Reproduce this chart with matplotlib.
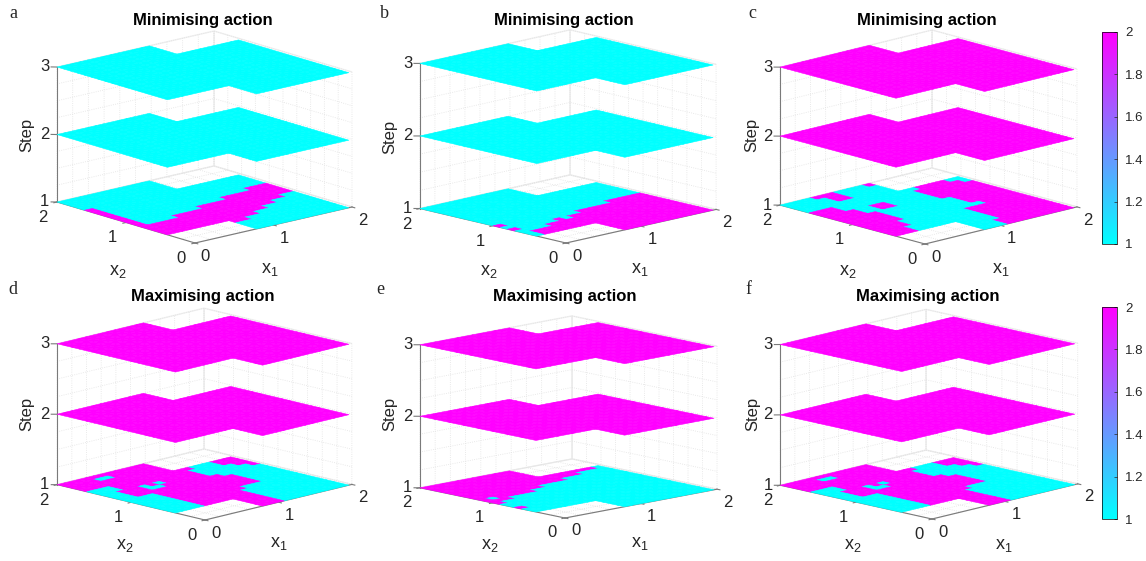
from matplotlib import pyplot as plt
from matplotlib.cm import ScalarMappable
from matplotlib.colors import Normalize
from mpl_toolkits.mplot3d import proj3d
import numpy as np

W, H = 1146, 561
plt.rcParams['font.family'] = ['Liberation Sans', 'DejaVu Sans']
plt.rcParams['mathtext.fontset'] = 'custom'
plt.rcParams['mathtext.rm'] = 'Liberation Sans'
plt.rcParams['grid.color'] = '#e2e2e2'
plt.rcParams['grid.linestyle'] = ':'
plt.rcParams['grid.linewidth'] = 0.6

titles = ['Minimising action'] * 3 + ['Maximising action'] * 3
letters = ['a', 'b', 'c', 'd', 'e', 'f']
upper_step_value = [1, 1, 2, 2, 2, 2]
steps = [1, 2, 3]

# action at step 1, top row is x2 = 1.9..2, 0 = outside the domain
step1_a = [
    '11111111111100000000', '11111111111100000000', '11111111111100000000', '11111111111100000000',
    '21111111111111111111', '21111111111111111111', '21111111111111111111', '21111111111111111111',
    '21111111111111111222', '21111111111112222222', '21111111122222222222', '21111222222222222222',
    '22222222222222222211', '22222222222222221111', '22222222222222111111', '22222222222211111111',
    '00000000221111111111', '00000000111111111111', '00000000111111111111', '00000000111111111111',
]
step1_b = [
    '11111111111100000000', '11111111111100000000', '11111111111100000000', '11111111111100000000',
    '11111111111111111111', '11111111111111111111', '11111111111111111111', '11111111111111111111',
    '11111111111111111111', '11111111111111111111', '21111111111111122222', '11111111112222222222',
    '21111121222222222222', '11112222222222222222', '12222222222222222222', '12222222222222222222',
    '00000000222222222222', '00000000222222222222', '00000000222222222222', '00000000222222222222',
]
step1_c = [
    '11112221111200000000', '11111221111100000000', '11111221111100000000', '11111111111100000000',
    '22211111111111222211', '22211111111112222221', '22221122111112222222', '22221122111112222222',
    '22222111111112222222', '22222111111111222222', '22222111111111222222', '22222111111111222222',
    '22221111111111122222', '22221111111122222222', '22211111111122222222', '22211111111122222222',
    '00000000111122222222', '00000000111122222222', '00000000111222222222', '00000000111222222222',
]
step1_d = [
    '22222222222200000000', '22221122222200000000', '22222222222200000000', '22222222222200000000',
    '11122222222222111222', '11122222222221111222', '11222121222221111122', '11222112222221111112',
    '11222222222222111111', '11112222222222211111', '11112222222222211111', '11112222222222211111',
    '11112222222222211111', '11112222222211111111', '11112222222111111111', '11112222222111111111',
    '00000000222111111111', '00000000222111111111', '00000000222111111111', '00000000222111111111',
]
step1_e = [
    '22222222222200000000', '22222222222200000000', '22222222222200000000', '22222222222200000000',
    '22222222222222222221', '22222222222222221111', '22222222222221111111', '22222222211111111111',
    '21222221111111111111', '22211111111111111111', '21111111111111111111', '11111111111111111111',
    '11111111111111111111', '21111111111111111111', '11111111111111111111', '11111111111111111111',
    '00000000111111111111', '00000000111111111111', '00000000111111111111', '00000000111111111111',
]
step1_f = step1_d
step1_all = [step1_a, step1_b, step1_c, step1_d, step1_e, step1_f]

x1_edges = np.linspace(0, 1.96, 21)
x2_edges = np.linspace(0, 2, 21)

# pixel positions of the box corners on the reference: left, front, right, z span
boxes = [
    ((57, 202), (195, 243), (352, 207), 135),
    ((420, 209), (566, 243), (716, 209), 145),
    ((780, 205), (925, 244), (1077, 207), 138),
    ((57, 484), (205, 520), (352, 485), 141),
    ((420, 488), (565, 518), (717, 489), 143),
    ((780, 484), (932, 519), (1078, 485), 141),
]
title_pos = [(203, 20), (564, 20), (927, 20), (203, 296), (565, 296), (928, 296)]
letter_pos = [(13, 13), (384, 13), (752, 13), (13, 290), (380, 290), (748, 290)]
x1_label_pos = [(270, 270), (640, 269), (1001, 269), (279, 544), (640, 544), (1004, 545)]
x2_label_pos = [(118, 271), (489, 271), (848, 271), (125, 545), (490, 546), (853, 546)]
step_label_pos = [(27, 135), (390, 137), (752, 135), (27, 414), (390, 414), (753, 414)]

cmap = plt.get_cmap('cool')
norm = Normalize(1, 2)
axis_gray = '#7a7a7a'


def corner_px(ax, x, y, z):
    xs, ys, _ = proj3d.proj_transform(x, y, z, ax.get_proj())
    return ax.transData.transform((xs, ys))


def fit_box(ax, left, front, right, span):
    # view angles and box shape from where the corners sit on the picture
    ex = (np.array(right) - front) / 2.0
    ey = (np.array(left) - front) / 2.0
    azim = -180 + np.degrees(np.arctan2(ex[0], -ey[0]))
    L = np.hypot(ex[0], ey[0])
    A, B = ex[0] / L, -ey[0] / L
    sin_el = (-ex[1] - ey[1]) / (L * (A + B))
    elev = np.degrees(np.arcsin(sin_el))
    ax.view_init(elev=elev, azim=azim)
    ax.set_box_aspect((2 * L, 2 * L, span / np.cos(np.radians(elev))))
    fig.canvas.draw()
    S = 400.0
    ax.set_position([0.2, 0.1, S / W, S / H])
    ax.apply_aspect()
    p0 = corner_px(ax, 0, 0, 1)
    p1 = corner_px(ax, 2, 0, 1)
    S = S * np.hypot(*(np.array(right) - front)) / np.hypot(*(p1 - p0))
    ax.set_position([0.2, 0.1, S / W, S / H])
    ax.apply_aspect()
    p0 = corner_px(ax, 0, 0, 1)
    x0 = 0.2 * W + front[0] - p0[0]
    y0 = 0.1 * H + (H - front[1]) - p0[1]
    ax.set_position([x0 / W, y0 / H, S / W, S / H])


def put_text(pos, s, **kw):
    fig.text(pos[0] / W, 1 - pos[1] / H, s, ha='center', va='center', color='#262626', **kw)


fig = plt.figure(figsize=(W / 100, H / 100), dpi=100)

for n in range(6):
    ax = fig.add_subplot(projection='3d', proj_type='ortho')
    ax.patch.set_visible(False)
    ax.set_xlim(0, 2, view_margin=0)
    ax.set_ylim(0, 2, view_margin=0)
    ax.set_zlim(1, 3, view_margin=0)
    fit_box(ax, *boxes[n])

    grid = np.array([[int(c) for c in row] for row in step1_all[n][::-1]], dtype=float)
    X, Y = np.meshgrid(x1_edges, x2_edges)
    for s in steps:
        vals = grid if s == 1 else np.where(grid > 0, upper_step_value[n], 0)
        colors = cmap(norm(vals))
        colors[vals == 0] = (1, 1, 1, 0)
        ax.plot_surface(X, Y, np.full(X.shape, float(s)), facecolors=colors, rstride=1, cstride=1,
                        shade=False, linewidth=0.4)

    for axis in (ax.xaxis, ax.yaxis, ax.zaxis):
        axis.set_pane_color((1, 1, 1, 1))
        axis.pane.set_edgecolor('#f0f0f0')
        axis.line.set_color(axis_gray)
        axis.line.set_linewidth(0.8)
        # the grid needs a tick everywhere, so the marks go and come back below for whole values
        axis._axinfo['tick']['inward_factor'] = 0
        axis._axinfo['tick']['outward_factor'] = 0

    xy_ticks = np.arange(0, 2.01, 0.2)
    xy_labels = ['%d' % t if abs(t - round(t)) < 1e-6 else '' for t in xy_ticks]
    z_ticks = np.arange(1, 3.01, 0.25)
    z_labels = ['%d' % t if abs(t - round(t)) < 1e-6 else '' for t in z_ticks]
    ax.set_xticks(xy_ticks, xy_labels)
    ax.set_yticks(xy_ticks, xy_labels)
    ax.set_zticks(z_ticks, z_labels)
    ax.tick_params(labelsize=12, pad=1, colors='#262626')
    ax.yaxis.set_tick_params(pad=2.5)
    ax.zaxis.set_tick_params(pad=-3)
    for axis in (ax.xaxis, ax.yaxis, ax.zaxis):
        for tick in axis.get_major_ticks():
            tick.label1.set_verticalalignment('center')

    for t in (0, 1, 2):
        ax.plot([t, t], [0, -0.04], [1, 1], color=axis_gray, lw=0.8)
        ax.plot([0, -0.04], [t, t], [1, 1], color=axis_gray, lw=0.8)
    for t in (1, 2, 3):
        ax.plot([0, -0.04], [2, 2.04], [t, t], color=axis_gray, lw=0.8)
    ax.set_xlim(0, 2, view_margin=0)
    ax.set_ylim(0, 2, view_margin=0)
    ax.set_zlim(1, 3, view_margin=0)

    put_text(x1_label_pos[n], r'$\mathregular{x_1}$', fontsize=13)
    put_text(x2_label_pos[n], r'$\mathregular{x_2}$', fontsize=13)
    put_text(step_label_pos[n], 'Step', fontsize=12, rotation=90)
    fig.text(title_pos[n][0] / W, 1 - title_pos[n][1] / H, titles[n], ha='center', va='center',
             fontsize=12, fontweight='bold')
    put_text(letter_pos[n], letters[n], fontsize=13, family='Liberation Serif')

for top, bottom in ((32, 244), (307, 519)):
    cax = fig.add_axes([1102 / W, 1 - bottom / H, 15 / W, (bottom - top) / H])
    cb = fig.colorbar(ScalarMappable(norm=norm, cmap=cmap), cax=cax, ticks=np.arange(1, 2.01, 0.2))
    cb.ax.set_yticklabels(['1', '1.2', '1.4', '1.6', '1.8', '2'])
    cb.ax.tick_params(labelsize=9.5, length=2, width=0.5, direction='in', pad=6, colors='#262626')
    cb.outline.set_linewidth(0.5)

fig.savefig('out.png', dpi=100)
